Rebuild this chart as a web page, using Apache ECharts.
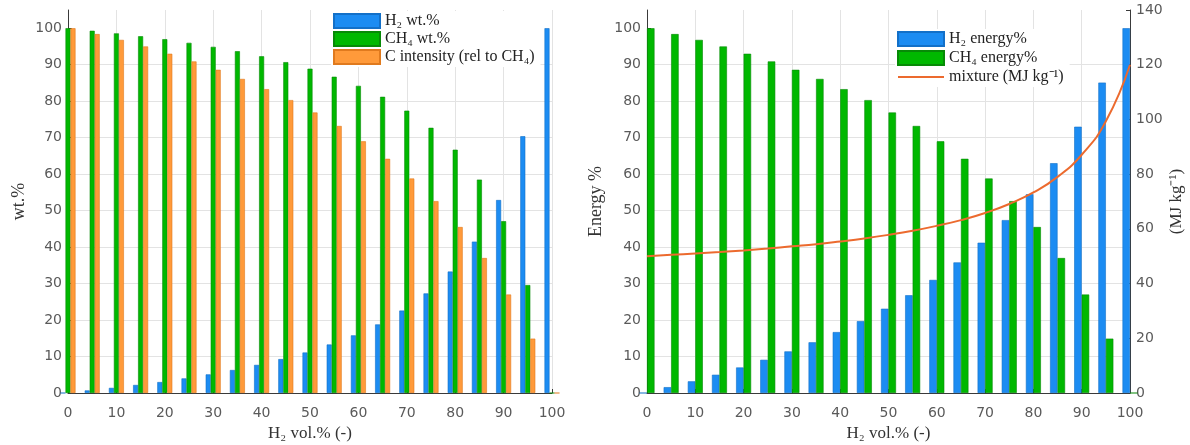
<!DOCTYPE html>
<html>
<head>
<meta charset="utf-8">
<script src="https://cdn.jsdelivr.net/npm/echarts@6/dist/echarts.min.js"></script>
<style>
html, body { margin: 0; padding: 0; background: #fff; }
#main { width: 1190px; height: 445px; }
</style>
</head>
<body>
<div id="main"></div>
<script>
// H2 share of the blend, vol.%
var h2Vol = [0, 5, 10, 15, 20, 25, 30, 35, 40, 45, 50, 55, 60, 65, 70, 75, 80, 85, 90, 95, 100];

// left panel
var h2Wt = [0, 0.7, 1.4, 2.2, 3.0, 4.0, 5.1, 6.3, 7.7, 9.3, 11.1, 13.3, 15.8, 18.8, 22.6, 27.3, 33.3, 41.5, 52.9, 70.4, 100];
var ch4Wt = [100, 99.3, 98.6, 97.8, 97.0, 96.0, 94.9, 93.7, 92.3, 90.7, 88.9, 86.7, 84.2, 81.2, 77.4, 72.7, 66.7, 58.5, 47.1, 29.6, 0];
var cIntensity = [100, 98.4, 96.8, 95.0, 93.0, 90.9, 88.6, 86.1, 83.3, 80.3, 76.9, 73.2, 69.0, 64.2, 58.8, 52.6, 45.5, 37.0, 27.0, 14.9, 0];

// right panel
var h2Energy = [0, 1.6, 3.2, 5.0, 7.0, 9.1, 11.4, 13.9, 16.7, 19.7, 23.1, 26.8, 31.0, 35.8, 41.2, 47.4, 54.5, 63.0, 73.0, 85.1, 100];
var ch4Energy = [100, 98.4, 96.8, 95.0, 93.0, 90.9, 88.6, 86.1, 83.3, 80.3, 76.9, 73.2, 69.0, 64.2, 58.8, 52.6, 45.5, 37.0, 27.0, 14.9, 0];
var mixLhv = [50.0, 50.5, 51.0, 51.5, 52.1, 52.8, 53.6, 54.4, 55.4, 56.5, 57.8, 59.3, 61.1, 63.2, 65.8, 69.1, 73.3, 79.0, 87.1, 99.3, 120];

var pctTicks = [0, 10, 20, 30, 40, 50, 60, 70, 80, 90, 100];

function pairs(vals) {
    return h2Vol.map(function (x, i) { return [x, vals[i]]; });
}

var BLUE = '#1c8cf2', GREEN = '#00b800', ORANGE = '#ff9a3a', RED = '#ec6a2e';
var sans = 'DejaVu Sans', serif = 'Liberation Serif';
var axisCol = '#3a3a3a', gridCol = '#e3e3e3', labelCol = '#5a5a5a';

function xAx(idx) {
    return {
        type: 'value', gridIndex: idx, min: 0, max: 100, interval: 10,
        name: 'H\u2082 vol.% (-)', nameLocation: 'middle', nameGap: 32,
        nameTextStyle: { fontFamily: serif, fontSize: 17, color: '#333' },
        axisLine: { show: true, onZero: false, lineStyle: { color: axisCol, width: 1 } },
        axisTick: { show: true, inside: true, length: 4, lineStyle: { color: axisCol } },
        axisLabel: { margin: 13, fontFamily: sans, fontSize: 14, color: labelCol },
        splitLine: { show: true, showMinLine: false, lineStyle: { color: gridCol, width: 1 } }
    };
}

function yPct(idx, name, gap) {
    return {
        type: 'value', gridIndex: idx, min: 0, max: 105, interval: 10,
        name: name, nameLocation: 'middle', nameGap: gap, nameRotate: 90,
        nameTextStyle: { fontFamily: serif, fontSize: 18, color: '#333' },
        axisLine: { show: true, onZero: false, lineStyle: { color: axisCol, width: 1 } },
        axisTick: { show: true, inside: true, length: 4, customValues: pctTicks, lineStyle: { color: axisCol } },
        axisLabel: { margin: 6, fontFamily: sans, fontSize: 14, color: labelCol, customValues: pctTicks,
            formatter: function (v) { return v > 100 ? '' : v; } },
        splitLine: { show: true, showMinLine: false, showMaxLine: false, lineStyle: { color: gridCol, width: 1 } }
    };
}

function bar(name, vals, color, edge, w, xi, yi) {
    return {
        name: name, type: 'bar', xAxisIndex: xi, yAxisIndex: yi,
        data: pairs(vals), barWidth: w, barGap: '0%', clip: true,
        itemStyle: { color: color, borderColor: edge, borderWidth: 0.6 },
        emphasis: { disabled: true }
    };
}

var legendText = { fontFamily: serif, fontSize: 16, color: '#222' };

var chart = echarts.init(document.getElementById('main'), null, { renderer: 'canvas' });
chart.setOption({
    backgroundColor: '#fff',
    animation: false,
    grid: [
        { left: 68, right: 638, top: 10, bottom: 52, outerBoundsMode: 'none' },
        { left: 647, right: 60, top: 10, bottom: 52, outerBoundsMode: 'none' }
    ],
    xAxis: [xAx(0), xAx(1)],
    yAxis: [
        yPct(0, 'wt.%', 40),
        yPct(1, 'Energy %', 42),
        {
            type: 'value', gridIndex: 1, position: 'right', min: 0, max: 140, interval: 20,
            name: '(MJ kg\u207B\u00B9)', nameLocation: 'middle', nameGap: 38, nameRotate: 90,
            nameTextStyle: { fontFamily: serif, fontSize: 17, color: '#333' },
            axisLine: { show: true, onZero: false, lineStyle: { color: axisCol, width: 1 } },
            axisTick: { show: true, inside: true, length: 4, lineStyle: { color: axisCol } },
            axisLabel: { margin: 6, fontFamily: sans, fontSize: 14, color: labelCol },
            splitLine: { show: false }
        }
    ],
    legend: [
        {
            orient: 'vertical', left: 331, top: 11, itemWidth: 46, itemHeight: 14, itemGap: 2,
            padding: [2, 6, 2, 2], backgroundColor: '#fff', textStyle: legendText,
            data: [
                { name: 'H\u2082 wt.%', icon: 'rect' },
                { name: 'CH\u2084 wt.%', icon: 'rect' },
                { name: 'C intensity (rel to CH\u2084)', icon: 'rect' }
            ]
        },
        {
            orient: 'vertical', left: 895, top: 29, itemWidth: 46, itemHeight: 14, itemGap: 3,
            padding: [2, 6, 2, 2], backgroundColor: '#fff', textStyle: legendText,
            data: [
                { name: 'H\u2082 energy%', icon: 'rect' },
                { name: 'CH\u2084 energy%', icon: 'rect' },
                { name: 'mixture (MJ kg\u207B\u00B9)', itemStyle: { opacity: 0 }, lineStyle: { color: RED, width: 2 } }
            ]
        }
    ],
    series: [
        bar('H\u2082 wt.%', h2Wt, BLUE, '#1370c8', 5, 0, 0),
        bar('CH\u2084 wt.%', ch4Wt, GREEN, '#078a07', 5, 0, 0),
        bar('C intensity (rel to CH\u2084)', cIntensity, ORANGE, '#e07a1e', 5, 0, 0),
        bar('H\u2082 energy%', h2Energy, BLUE, '#1370c8', 7.5, 1, 1),
        bar('CH\u2084 energy%', ch4Energy, GREEN, '#078a07', 7.5, 1, 1),
        {
            name: 'mixture (MJ kg\u207B\u00B9)', type: 'line', xAxisIndex: 1, yAxisIndex: 2,
            data: pairs(mixLhv), symbol: 'none', showSymbol: false, smooth: true,
            lineStyle: { color: RED, width: 2 }, itemStyle: { color: RED },
            emphasis: { disabled: true }, z: 5
        }
    ]
});
</script>
</body>
</html>
